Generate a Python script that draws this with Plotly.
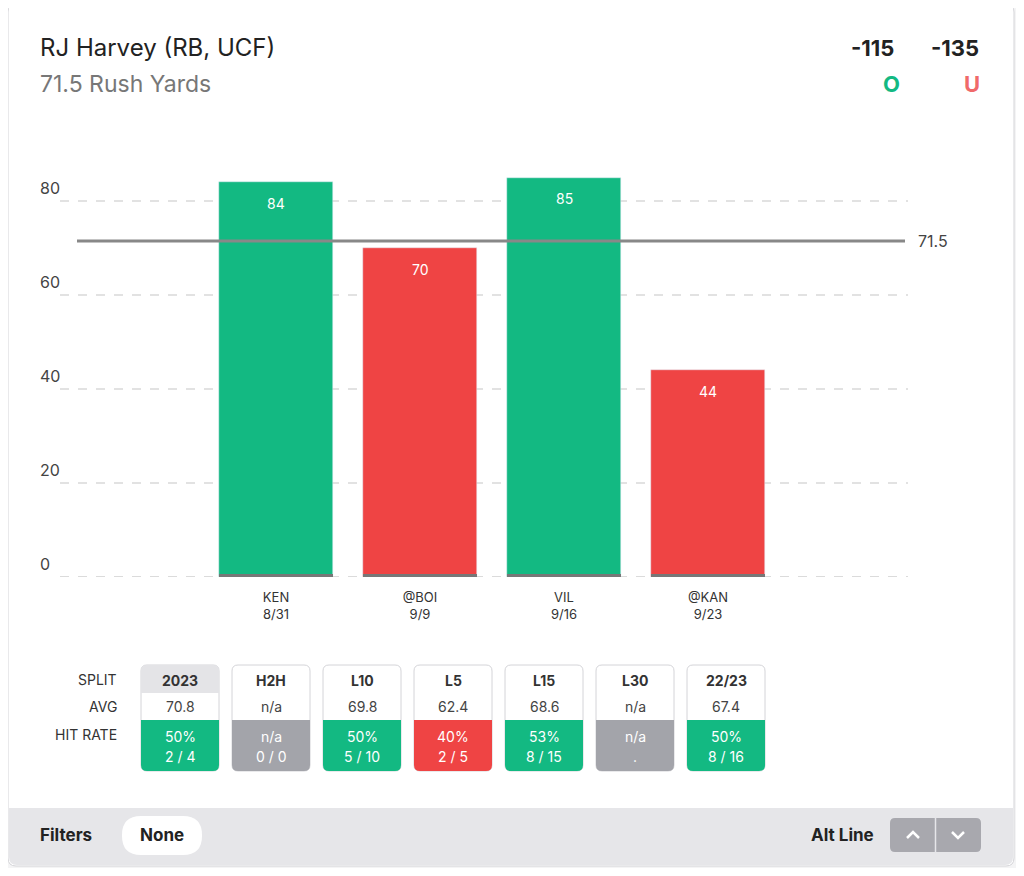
import plotly.graph_objects as go

games = ["KEN", "@BOI", "VIL", "@KAN"]
dates = ["8/31", "9/9", "9/16", "9/23"]
yards = [84, 70, 85, 44]
line = 71.5
over_odds, under_odds = "-115", "-135"

splits = ["2023", "H2H", "L10", "L5", "L15", "L30", "22/23"]
avgs = ["70.8", "n/a", "69.8", "62.4", "68.6", "n/a", "67.4"]
hit_pct = ["50%", "n/a", "50%", "40%", "53%", "n/a", "50%"]
hit_cnt = ["2 / 4", "0 / 0", "5 / 10", "2 / 5", "8 / 15", ".", "8 / 16"]

GREEN, RED, GRAY = "#13b982", "#ef4444", "#a3a4aa"
FONT = "Inter, Roboto, sans-serif"

# the page body adds an 8px offset; positions below are in screenshot pixels
OFF = 8
L, R, T, B = 60, 905, 130, 577
PW, PH = R - L, B - T
YMAX = PH / 4.7


def px(x):
    return (x - L) / PW


def py(y):
    return (B - y) / PH


def rrect(x0, y0, x1, y1, r, top=True, bottom=True):
    rt = r if top else 0
    rb = r if bottom else 0
    pts = [f"M {px(x0 + rt)},{py(y0)}", f"L {px(x1 - rt)},{py(y0)}",
           f"Q {px(x1)},{py(y0)} {px(x1)},{py(y0 + rt)}",
           f"L {px(x1)},{py(y1 - rb)}",
           f"Q {px(x1)},{py(y1)} {px(x1 - rb)},{py(y1)}",
           f"L {px(x0 + rb)},{py(y1)}",
           f"Q {px(x0)},{py(y1)} {px(x0)},{py(y1 - rb)}",
           f"L {px(x0)},{py(y0 + rt)}",
           f"Q {px(x0)},{py(y0)} {px(x0 + rt)},{py(y0)} Z"]
    return " ".join(pts)


colors = [GREEN if v > line else RED for v in yards]
xs = list(range(len(games)))

fig = go.Figure(go.Bar(x=xs, y=yards, marker_color=colors, width=114 / 144))

shapes = []
ann = []

# card
shapes.append(dict(type="path", xref="paper", yref="paper", path=rrect(8, 4, 1014, 866, 8),
                   fillcolor="white", line=dict(color="#d4d4d8", width=1), layer="below"))
shapes.append(dict(type="path", xref="paper", yref="paper", path=rrect(9, 808, 1013, 865, 8, top=False),
                   fillcolor="#e6e6e9", line=dict(width=0), layer="below"))

# grid lines
for v in [20, 40, 60, 80]:
    shapes.append(dict(type="line", xref="paper", yref="y", x0=0, x1=px(908), y0=v, y1=v,
                       line=dict(color="#d9d9d9", width=1.5, dash="dash"), layer="below"))
shapes.append(dict(type="line", xref="paper", yref="y", x0=0, x1=px(908), y0=0, y1=0,
                   line=dict(color="#d0d0d0", width=1.5, dash="dash"), layer="below"))
for i in xs:
    shapes.append(dict(type="rect", xref="x", yref="paper", x0=i - 57 / 144, x1=i + 57 / 144,
                       y0=py(577), y1=py(574), fillcolor="#777", line=dict(width=0)))
    ann.append(dict(xref="x", yref="y", x=i, y=yards[i], yshift=-21, text=str(yards[i]),
                    font=dict(size=14, color="white")))
shapes.append(dict(type="line", xref="paper", yref="y", x0=px(77), x1=1, y0=line, y1=line,
                   line=dict(color="#888", width=3)))
ann.append(dict(xref="paper", yref="y", x=px(916), y=line, text=str(line),
                xanchor="left", font=dict(size=16, color="#444")))
for v in [0, 20, 40, 60, 80]:
    ann.append(dict(xref="paper", yref="y", x=px(38), y=v, yshift=13, text=str(v),
                    xanchor="left", font=dict(size=16, color="#444")))

# header
ann += [
    dict(x=px(38), y=py(48), text="RJ Harvey (RB, UCF)", font=dict(size=24, color="#222"), xanchor="left"),
    dict(x=px(38), y=py(84), text="71.5 Rush Yards", font=dict(size=23, color="#777"), xanchor="left"),
    dict(x=px(872), y=py(48), text=f"<b>{over_odds}</b>", font=dict(size=22, color="#222")),
    dict(x=px(955), y=py(48), text=f"<b>{under_odds}</b>", font=dict(size=22, color="#222")),
    dict(x=px(891), y=py(84), text="<b>O</b>", font=dict(size=22, color=GREEN)),
    dict(x=px(972), y=py(84), text="<b>U</b>", font=dict(size=22, color="#f06a6a")),
]

# splits table
for lab, yy in [("SPLIT", 679), ("AVG", 706), ("HIT RATE", 734)]:
    ann.append(dict(x=px(119), y=py(yy), text=lab, xanchor="right", font=dict(size=14, color="#333")))
for i, s in enumerate(splits):
    cx = 180 + i * 91
    x0, x1 = cx - 39, cx + 39
    shapes.append(dict(type="path", xref="paper", yref="paper", path=rrect(x0, 665, x1, 771, 6),
                       fillcolor="white", line=dict(color="#d4d4d8", width=1)))
    if i == 0:
        shapes.append(dict(type="path", xref="paper", yref="paper", path=rrect(x0, 665, x1, 693, 6, bottom=False),
                           fillcolor="#e4e4e7", line=dict(width=0)))
    hc = GRAY if hit_pct[i] == "n/a" else (GREEN if int(hit_pct[i][:-1]) > 45 else RED)
    shapes.append(dict(type="path", xref="paper", yref="paper", path=rrect(x0, 720, x1, 771, 6, top=False),
                       fillcolor=hc, line=dict(width=0)))
    ann += [
        dict(x=px(cx), y=py(680), text=f"<b>{s}</b>", font=dict(size=14, color="#333")),
        dict(x=px(cx), y=py(706), text=avgs[i], font=dict(size=14, color="#444")),
        dict(x=px(cx), y=py(736), text=hit_pct[i], font=dict(size=14, color="white")),
        dict(x=px(cx), y=py(756), text=hit_cnt[i], font=dict(size=14, color="white")),
    ]

# bottom bar
shapes.append(dict(type="path", xref="paper", yref="paper", path=rrect(122, 816, 202, 855, 19),
                   fillcolor="white", line=dict(width=0)))
shapes.append(dict(type="path", xref="paper", yref="paper", path=rrect(890, 818, 981, 852, 5),
                   fillcolor="#a8a8ae", line=dict(width=0)))
shapes.append(dict(type="line", xref="paper", yref="paper", x0=px(935.5), x1=px(935.5), y0=py(818), y1=py(852),
                   line=dict(color="#e6e6e9", width=1.5)))
shapes.append(dict(type="path", xref="paper", yref="paper",
                   path=f"M {px(907)},{py(838)} L {px(913)},{py(832)} L {px(919)},{py(838)}",
                   line=dict(color="white", width=2.5)))
shapes.append(dict(type="path", xref="paper", yref="paper",
                   path=f"M {px(952)},{py(832)} L {px(958)},{py(838)} L {px(964)},{py(832)}",
                   line=dict(color="white", width=2.5)))
ann += [
    dict(x=px(38), y=py(835), text="<b>Filters</b>", xanchor="left", font=dict(size=17, color="#222")),
    dict(x=px(162), y=py(835), text="<b>None</b>", font=dict(size=17, color="#222")),
    dict(x=px(876), y=py(835), text="<b>Alt Line</b>", xanchor="right", font=dict(size=17, color="#222")),
]

for a in ann:
    a.setdefault("xref", "paper")
    a.setdefault("yref", "paper")
    a.setdefault("showarrow", False)
    a.setdefault("xanchor", "center")
    a.setdefault("yanchor", "middle")

fig.update_layout(
    width=1024 - 2 * OFF, height=876 - 2 * OFF,
    margin=dict(l=L - OFF, r=1024 - OFF - R, t=T - OFF, b=876 - OFF - B),
    paper_bgcolor="#f4f4f5", plot_bgcolor="rgba(0,0,0,0)", showlegend=False,
    font=dict(family=FONT), shapes=shapes, annotations=ann, bargap=0,
    xaxis=dict(range=[-1.5, PW / 144 - 1.5], tickvals=xs,
               ticktext=[f"{g}<br>{d}" for g, d in zip(games, dates)],
               showgrid=False, zeroline=False, tickfont=dict(size=13, color="#333"),
               ticklen=0, ticklabelstandoff=11),
    yaxis=dict(range=[0, YMAX], showgrid=False, zeroline=False, showticklabels=False),
)

fig.write_html("out.html")
